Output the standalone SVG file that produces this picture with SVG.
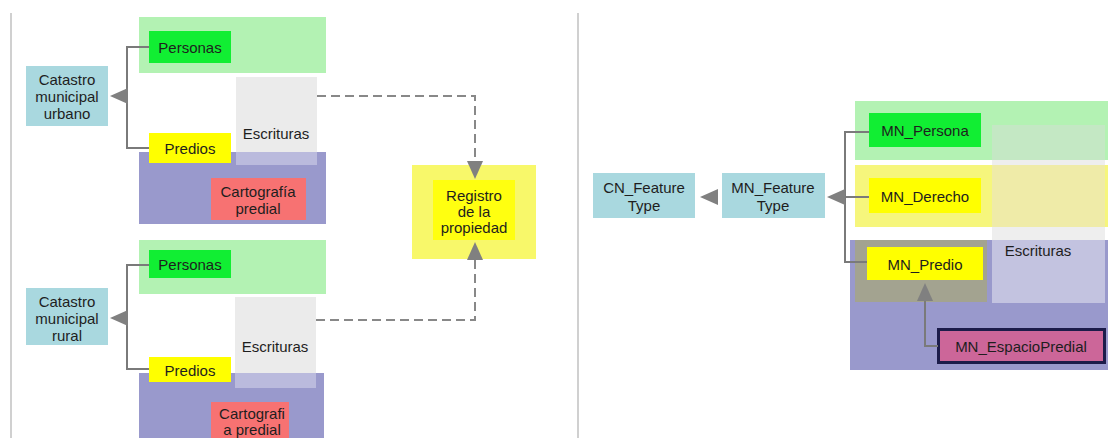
<svg xmlns="http://www.w3.org/2000/svg" width="1108" height="438" viewBox="0 0 1108 438">
  <style>
    text { font-family: "Liberation Sans", Arial, sans-serif; font-size: 15px; fill: #1e1e1e; text-anchor: middle; dominant-baseline: central; }
    .blue { fill: #a9d8df; }
    .lgreen { fill: #b3f2b3; }
    .green { fill: #11ee33; }
    .yellow { fill: #ffff00; }
    .gray { fill: #ebebeb; }
    .purple { fill: #9999cc; }
    .lav { fill: #babadd; }
    .red { fill: #f77272; }
    .link { fill: none; stroke: #7a7a7a; stroke-width: 2; }
    .dash { fill: none; stroke: #888; stroke-width: 2; stroke-dasharray: 9 5; }
    .head { fill: #808080; }
    .rule { stroke: #d0d0d0; stroke-width: 2; }
  </style>
  <defs>
    <!-- arrowhead with its tip at the origin, pointing left -->
    <path id="tri" d="M0,0 L18,-8 L18,8 Z"/>
  </defs>

  <rect width="1108" height="438" fill="#ffffff"/>

  <!-- panel rules -->
  <line class="rule" x1="11" y1="13" x2="11" y2="438"/>
  <line class="rule" x1="578" y1="13" x2="578" y2="438"/>

  <!-- ===== urban cadastre ===== -->
  <g id="urbano-capas">
    <rect class="lgreen" x="139" y="17" width="187" height="56"/>
    <rect class="gray" x="236" y="77" width="81" height="88"/>
    <rect class="purple" x="139" y="152" width="187" height="72"/>
    <rect class="lav" x="236" y="152" width="81" height="13"/>
  </g>
  <g id="urbano-escrituras">
    <text x="276" y="133">Escrituras</text>
  </g>
  <g id="urbano-personas">
    <rect class="green" x="149" y="31" width="82" height="32"/>
    <text x="190" y="47">Personas</text>
  </g>
  <g id="urbano-predios">
    <rect class="yellow" x="149" y="133" width="82" height="30"/>
    <text x="190" y="148">Predios</text>
  </g>
  <g id="urbano-cartografia">
    <rect class="red" x="211" y="178" width="95" height="42"/>
    <text x="258" y="191">Cartografía</text>
    <text x="258" y="208">predial</text>
  </g>
  <g id="catastro-urbano">
    <rect class="blue" x="26" y="66" width="82" height="60"/>
    <text x="67" y="79">Catastro</text>
    <text x="67" y="96">municipal</text>
    <text x="67" y="113">urbano</text>
  </g>

  <!-- ===== rural cadastre ===== -->
  <g id="rural-capas">
    <rect class="lgreen" x="139" y="240" width="187" height="54"/>
    <rect class="gray" x="235" y="297" width="81" height="91"/>
    <rect class="purple" x="139" y="373" width="185" height="65"/>
    <rect class="lav" x="235" y="373" width="81" height="15"/>
  </g>
  <g id="rural-escrituras">
    <text x="275" y="346">Escrituras</text>
  </g>
  <g id="rural-personas">
    <rect class="green" x="149" y="250" width="82" height="28"/>
    <text x="190" y="264">Personas</text>
  </g>
  <g id="rural-predios">
    <rect class="yellow" x="149" y="357" width="82" height="25"/>
    <text x="190" y="370">Predios</text>
  </g>
  <g id="rural-cartografia">
    <rect class="red" x="211" y="402" width="78" height="36"/>
    <text x="252" y="413">Cartografi</text>
    <text x="252" y="429">a predial</text>
  </g>
  <g id="catastro-rural">
    <rect class="blue" x="26" y="288" width="82" height="57"/>
    <text x="67" y="301">Catastro</text>
    <text x="67" y="318">municipal</text>
    <text x="67" y="335">rural</text>
  </g>

  <!-- ===== property registry ===== -->
  <g id="registro">
    <rect x="412" y="165" width="124" height="94" fill="#f8f86a"/>
    <rect x="433" y="180" width="82" height="60" fill="#ffff10"/>
    <text x="474" y="195">Registro</text>
    <text x="474" y="211">de la</text>
    <text x="474" y="227">propiedad</text>
  </g>

  <!-- ===== model classes ===== -->
  <g id="capas-modelo">
    <rect class="lgreen" x="855" y="101" width="253" height="59"/>
    <rect x="855" y="165" width="253" height="62" fill="#f6f67c"/>
    <rect class="purple" x="850" y="240" width="258" height="130"/>
    <rect x="855" y="240" width="132" height="62" fill="#a3a390"/>
    <!-- deeds column drawn across the bands -->
    <rect x="992" y="125" width="113" height="35" fill="#c4e8c4"/>
    <rect x="992" y="160" width="113" height="5" fill="#eeeeee"/>
    <rect x="992" y="165" width="113" height="62" fill="#efeba8"/>
    <rect x="992" y="227" width="113" height="13" fill="#eeeeee"/>
    <rect x="992" y="240" width="113" height="63" fill="#c3c3e0"/>
  </g>
  <g id="mn-escrituras">
    <text x="1038" y="250">Escrituras</text>
  </g>
  <g id="cn-featuretype">
    <rect class="blue" x="593" y="173" width="102" height="45"/>
    <text x="644" y="187">CN_Feature</text>
    <text x="644" y="205">Type</text>
  </g>
  <g id="mn-featuretype">
    <rect class="blue" x="722" y="173" width="103" height="45"/>
    <text x="773" y="187">MN_Feature</text>
    <text x="773" y="205">Type</text>
  </g>
  <g id="mn-persona">
    <rect class="green" x="869" y="113" width="112" height="34"/>
    <text x="925" y="130">MN_Persona</text>
  </g>
  <g id="mn-derecho">
    <rect class="yellow" x="869" y="178" width="112" height="35"/>
    <text x="925" y="196">MN_Derecho</text>
  </g>
  <g id="mn-predio">
    <rect class="yellow" x="867" y="247" width="116" height="33"/>
    <text x="925" y="264">MN_Predio</text>
  </g>
  <g id="mn-espaciopredial">
    <rect x="938.5" y="329.5" width="166" height="33" fill="#cc6699" stroke="#1c1c4a" stroke-width="3"/>
    <text x="1021" y="346">MN_EspacioPredial</text>
  </g>

  <!-- ===== connectors ===== -->
  <g id="conectores">
    <!-- urban bracket -->
    <path class="link" d="M149,47 H127 V148 H149"/>
    <use href="#tri" class="head" x="110" y="96"/>
    <!-- rural bracket -->
    <path class="link" d="M149,265 H127 V369 H149"/>
    <use href="#tri" class="head" x="110" y="318"/>
    <!-- deeds to registry -->
    <path class="dash" d="M317,96 H475 V162"/>
    <use href="#tri" class="head" transform="translate(475,179) rotate(-90)"/>
    <path class="dash" d="M316,320 H475 V260"/>
    <use href="#tri" class="head" transform="translate(475,242) rotate(90)"/>
    <!-- model inheritance -->
    <use href="#tri" class="head" x="700" y="197"/>
    <path class="link" d="M869,132 H845 V262 H867 M845,197 H869"/>
    <use href="#tri" class="head" x="827" y="197"/>
    <path class="link" d="M938,346 H925 V299"/>
    <use href="#tri" class="head" transform="translate(925,283) rotate(90)"/>
  </g>
</svg>
